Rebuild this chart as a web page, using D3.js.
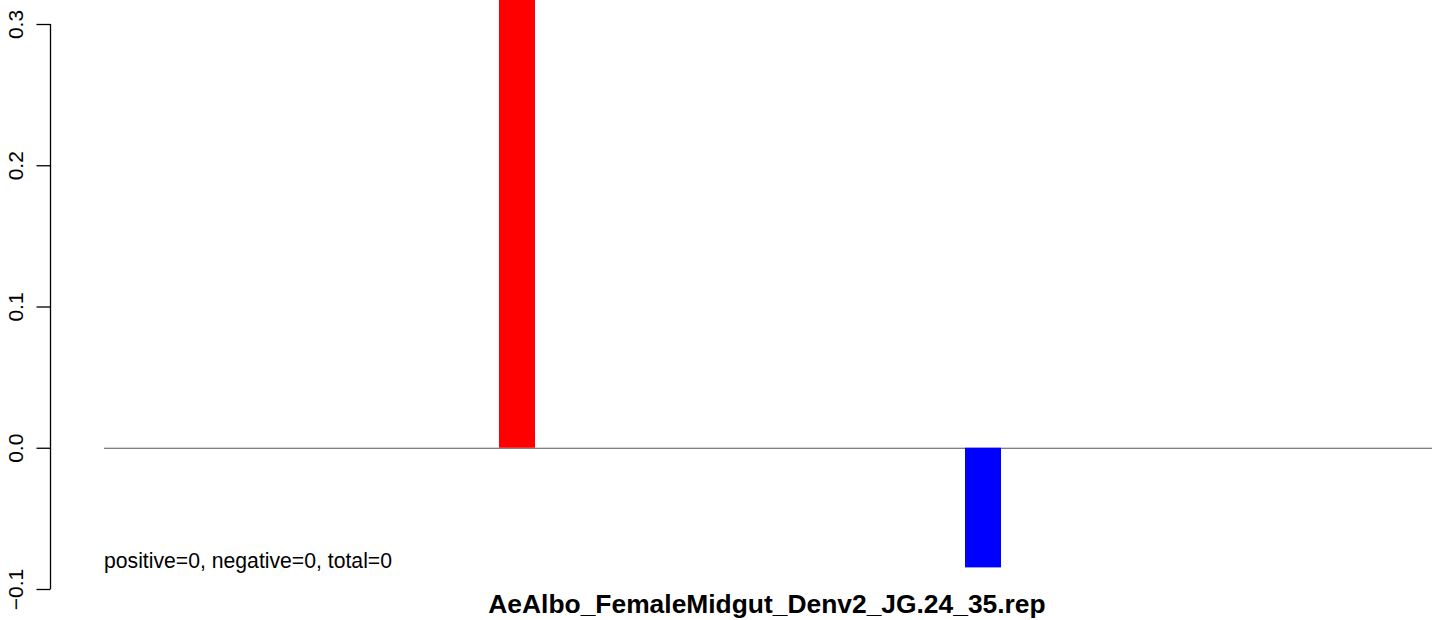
<!DOCTYPE html>
<html>
<head>
<meta charset="utf-8">
<script src="https://cdn.jsdelivr.net/npm/d3@7"></script>
<style>
  body { margin: 0; background: #fff; }
  svg { display: block; font-family: "Liberation Sans", Arial, Helvetica, sans-serif; }
</style>
</head>
<body>
<div id="chart"></div>
<script>
// data
var categories = ["positive", "negative"];
var values = [0.35, -0.0847];
var barColors = ["#ff0000", "#0000ff"];
var yTicks = [-0.1, 0.0, 0.1, 0.2, 0.3];
var title = "AeAlbo_FemaleMidgut_Denv2_JG.24_35.rep";
var note = "positive=0, negative=0, total=0";

var w = 1444;
var h = 620;

var svg = d3.select("#chart")
    .append("svg")
    .attr("width", w)
    .attr("height", h);

// y scale: -0.1 .. 0.3 over the plot area
var yScale = d3.scaleLinear()
    .domain([-0.1, 0.3])
    .range([589, 24]);

// bars sit at fixed slots of the barplot
var xScale = d3.scaleBand()
    .domain(categories)
    .range([499, 1001])
    .paddingInner(1 - 36 / 466)
    .paddingOuter(0);

// zero line across the plot region
svg.append("line")
    .attr("x1", 104)
    .attr("x2", 1432)
    .attr("y1", yScale(0) + 0.5)
    .attr("y2", yScale(0) + 0.5)
    .attr("stroke", "#555")
    .attr("stroke-width", 1);

// bars
svg.selectAll("rect.bar")
    .data(values)
    .enter()
    .append("rect")
    .attr("class", "bar")
    .attr("x", function (d, i) { return xScale(categories[i]); })
    .attr("y", function (d) { return d > 0 ? yScale(d) : yScale(0); })
    .attr("width", xScale.bandwidth())
    .attr("height", function (d) { return Math.abs(yScale(d) - yScale(0)); })
    .style("fill", function (d, i) { return barColors[i]; });

// y axis, R style
var yAxis = d3.axisLeft(yScale)
    .tickValues(yTicks)
    .tickSize(14)
    .tickPadding(0)
    .tickFormat(function (d) { return d < 0 ? "\u2212" + d3.format(".1f")(-d) : d3.format(".1f")(d); });

var gy = svg.append("g")
    .attr("transform", "translate(50.5,0)")
    .call(yAxis);

gy.select(".domain")
    .attr("d", "M0," + yScale(-0.1) + "V" + yScale(0.3))
    .attr("stroke", "#000")
    .attr("stroke-width", 1.3);

gy.selectAll(".tick line")
    .attr("stroke", "#000")
    .attr("stroke-width", 1.3);

gy.selectAll(".tick text")
    .attr("x", null)
    .attr("dy", null)
    .attr("transform", "translate(-28,0) rotate(-90)")
    .attr("text-anchor", "middle")
    .attr("fill", "#000")
    .style("font-size", "21px");

// note text in the lower left
svg.append("text")
    .attr("x", 104)
    .attr("y", 568)
    .style("font-size", "21.2px")
    .attr("fill", "#000")
    .text(note);

// title under the plot
svg.append("text")
    .attr("x", 767)
    .attr("y", 613)
    .attr("text-anchor", "middle")
    .style("font-size", "26.4px")
    .style("font-weight", "bold")
    .attr("fill", "#000")
    .text(title);
</script>
</body>
</html>
